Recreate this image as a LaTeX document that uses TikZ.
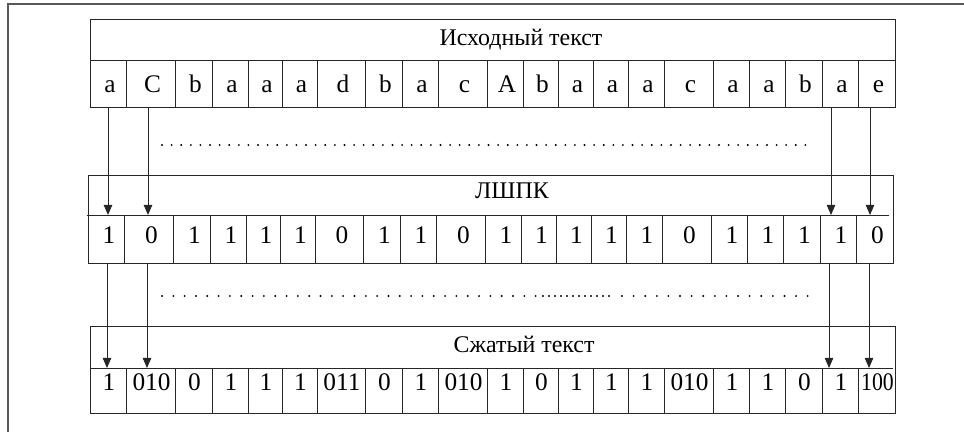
\documentclass[tikz,border=0pt]{standalone}
\usepackage{fontspec}
\setmainfont{Liberation Serif}
\usetikzlibrary{arrows.meta}
\tikzset{
  grid/.style={draw=black!85, line width=0.7pt},
  lbl/.style={anchor=base, inner sep=0pt, font=\fontsize{#1}{#1}\selectfont},
  pnt/.style={line width=1.5pt, line cap=round, dash pattern=on 0pt off #1},
  down/.style={draw=black!85, line width=0.7pt, -{Triangle[width=0.21cm,length=0.25cm]}}
}
\begin{document}
\begin{tikzpicture}[x=0.025cm,y=-0.025cm]
\useasboundingbox (0,0) rectangle (964,432);
\draw[black!65, line width=1.1pt] (8,432)--(8,4)--(964,4);

\draw[grid] (90,19) rectangle (895,107);
\draw[grid] (90,60)--(895,60);
\draw[grid] (88,175) rectangle (893,263);
\draw[grid] (87,215)--(889,215);
\draw[grid] (90,326) rectangle (895,413);
\draw[grid] (90,368)--(893,368);

\node[lbl=17] (src) at (521,46) {Исходный текст};
\node[lbl=17] (lspc) at (512,199) {ЛШПК};
\node[lbl=17] (cmp) at (524,352) {Сжатый текст};

\foreach \xl/\xr/\ta/\tb/\tc [count=\i] in {
  90/126/a/1/1, 126/175/C/0/010, 175/212/b/1/0, 212/248/a/1/1,
  248/282/a/1/1, 282/317/a/1/1, 317/365/d/0/011, 365/402/b/1/0,
  402/438/a/1/1, 438/487/c/0/010, 487/523/A/1/1, 523/558/b/1/0,
  558/593/a/1/1, 593/628/a/1/1, 628/664/a/1/1, 664/713/c/0/010,
  713/749/a/1/1, 749/785/a/1/1, 785/822/b/1/0, 822/858/a/1/1,
  858/895/e/0/\scalebox{0.86}[1]{100}}{
  \draw[grid] (\xr,60)--(\xr,107);
  \draw[grid] (\xr-2,215)--(\xr-2,263);
  \draw[grid] (\xr,368)--(\xr,413);
  \node[lbl=18] (s\i) at ({(\xl+\xr)/2+2},93) {\ta};
  \node[lbl=18] (m\i) at ({(\xl+\xr)/2+1},243) {\tb};
  \node[lbl=18] (b\i) at ({(\xl+\xr)/2+1},390) {\tc};
}

\draw[pnt=0.24cm] (162,145)--(810,145);
\draw[pnt=0.283cm] (162,296)--(540,296);
\draw[pnt=0.15cm] (543,296)--(610,296);
\draw[pnt=0.29cm] (622,296)--(813,296);

\foreach \x [count=\k] in {108, 148, 831, 870}{
  \coordinate (u\k) at (\x,107);
  \coordinate (v\k) at (\x,215);
  \draw[down] (u\k)--(v\k);
}
\foreach \x [count=\k] in {107, 147, 829, 869}{
  \coordinate (p\k) at (\x,263);
  \coordinate (q\k) at (\x,368);
  \draw[down] (p\k)--(q\k);
}
\end{tikzpicture}
\end{document}
